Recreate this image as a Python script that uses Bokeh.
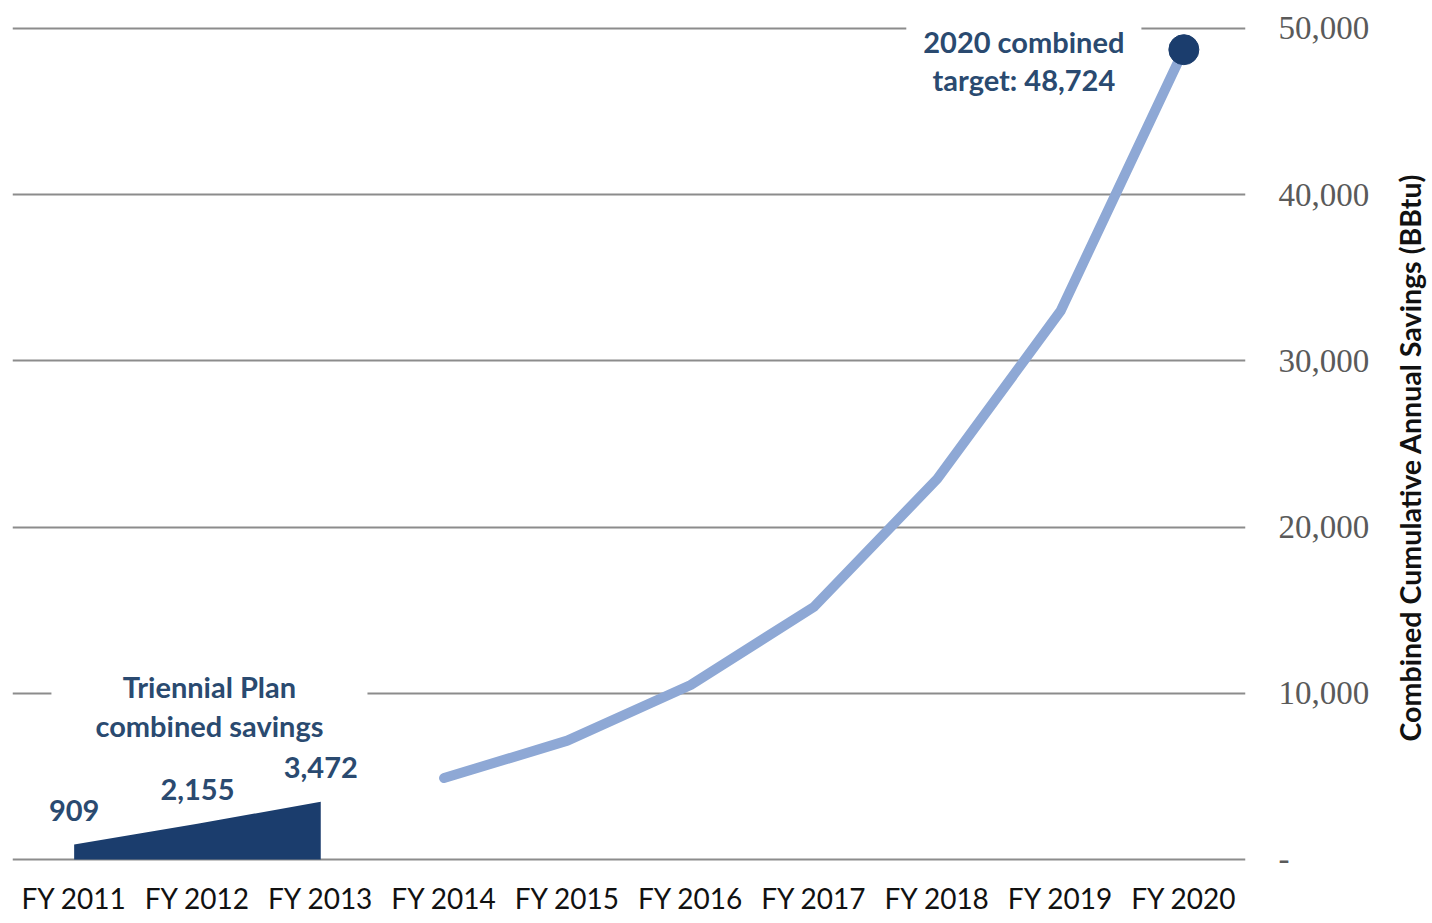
import math
from bokeh.plotting import figure
from bokeh.layouts import row
from bokeh.models import FactorRange, Range1d, FixedTicker
from bokeh.core.properties import value
from bokeh.embed import file_html
from bokeh.resources import INLINE

years = ["FY 2011", "FY 2012", "FY 2013", "FY 2014", "FY 2015",
         "FY 2016", "FY 2017", "FY 2018", "FY 2019", "FY 2020"]
plan_years = ["FY 2011", "FY 2012", "FY 2013"]
plan_savings = [909, 2155, 3472]
plan_labels = ["909", "2,155", "3,472"]
path_years = ["FY 2014", "FY 2015", "FY 2016", "FY 2017", "FY 2018", "FY 2019", "FY 2020"]
path_savings = [4900, 7150, 10500, 15200, 22900, 33000, 48724]
target_year = "FY 2020"
target_value = 48724
y_ticks = [0, 10000, 20000, 30000, 40000, 50000]
y_tick_labels = ["-", "10,000", "20,000", "30,000", "40,000", "50,000"]
plan_note = "Triennial Plan\ncombined savings"
target_note = "2020 combined\ntarget: 48,724"
axis_title = "Combined Cumulative Annual Savings (BBtu)"

NAVY = "#1B3D6D"
TEXT_BLUE = "#2A4A70"
LIGHT = "#8EA8D5"
GRID = "#8c8c8c"
FONT = "Lato"
H = 915

# frame runs a little past the chart's 0..50,000 scale so the category
# labels can sit inside it under the baseline
p = figure(width=1376, height=H,
           x_range=FactorRange(*years, range_padding=0),
           y_range=Range1d(-3370, 50600),
           y_axis_location="right",
           output_backend="svg", toolbar_location=None,
           min_border_left=12, min_border_right=131,
           min_border_top=18, min_border_bottom=0)
p.outline_line_color = None
p.background_fill_color = "white"
p.xgrid.grid_line_color = None
p.ygrid.grid_line_color = GRID
p.ygrid.grid_line_width = 2
p.xaxis.visible = False

ya = p.yaxis[0]
ya.ticker = FixedTicker(ticks=y_ticks)
ya.major_label_overrides = dict(zip(y_ticks, y_tick_labels))
ya.axis_line_color = None
ya.major_tick_line_color = None
ya.minor_tick_line_color = None
ya.major_label_text_font = "Liberation Serif"
ya.major_label_text_font_size = "33px"
ya.major_label_text_color = "#5a5a5a"
ya.major_label_standoff = 27

# category labels under the baseline
p.text(x=years, y=[0] * len(years), text=years, y_offset=39,
       text_align="center", text_baseline="middle",
       text_font=value(FONT), text_font_size="28px", text_color="#111111")

# annotations with white backgrounds (hide gridline behind)
p.text(x=["FY 2012"], y=[plan_savings[-1]], text=[plan_note],
       x_offset=12, y_offset=-96, text_align="center", text_baseline="middle",
       text_font=value(FONT), text_font_style="bold", text_font_size="29px",
       text_color=TEXT_BLUE, text_line_height=1.1,
       background_fill_color="white",
       padding=dict(left=44, right=44, top=4, bottom=4))
p.text(x=[target_year], y=[target_value], text=[target_note],
       x_offset=-160, y_offset=11, text_align="center", text_baseline="middle",
       text_font=value(FONT), text_font_style="bold", text_font_size="29px",
       text_color=TEXT_BLUE, text_line_height=1.1,
       background_fill_color="white",
       padding=dict(left=17, right=17, top=4, bottom=4))

p.varea(x=plan_years, y1=0, y2=plan_savings, fill_color=NAVY)
p.text(x=plan_years, y=plan_savings, text=plan_labels,
       text_align="center", text_baseline="middle", y_offset=-34,
       text_font=value(FONT), text_font_style="bold", text_font_size="29px",
       text_color=TEXT_BLUE)

p.line(path_years, path_savings, line_width=10, line_color=LIGHT,
       line_cap="round", line_join="round")
p.scatter([target_year], [target_value], size=30, fill_color=NAVY, line_color=NAVY)

# vertical axis title (reads bottom to top) in a narrow strip at the right
W2 = 52
t = figure(width=W2, height=H, x_range=Range1d(0, W2), y_range=Range1d(0, H),
           output_backend="svg", toolbar_location=None,
           min_border=0)
t.axis.visible = False
t.grid.visible = False
t.outline_line_color = None
t.text(x=[33], y=[H - 448], text=[axis_title], angle=math.pi / 2,
       text_align="center", text_baseline="middle",
       text_font=value(FONT), text_font_style="bold", text_font_size="28.6px",
       text_color="#111111")

layout = row(p, t, spacing=0)
open("out.html", "w").write(file_html(layout, INLINE))
